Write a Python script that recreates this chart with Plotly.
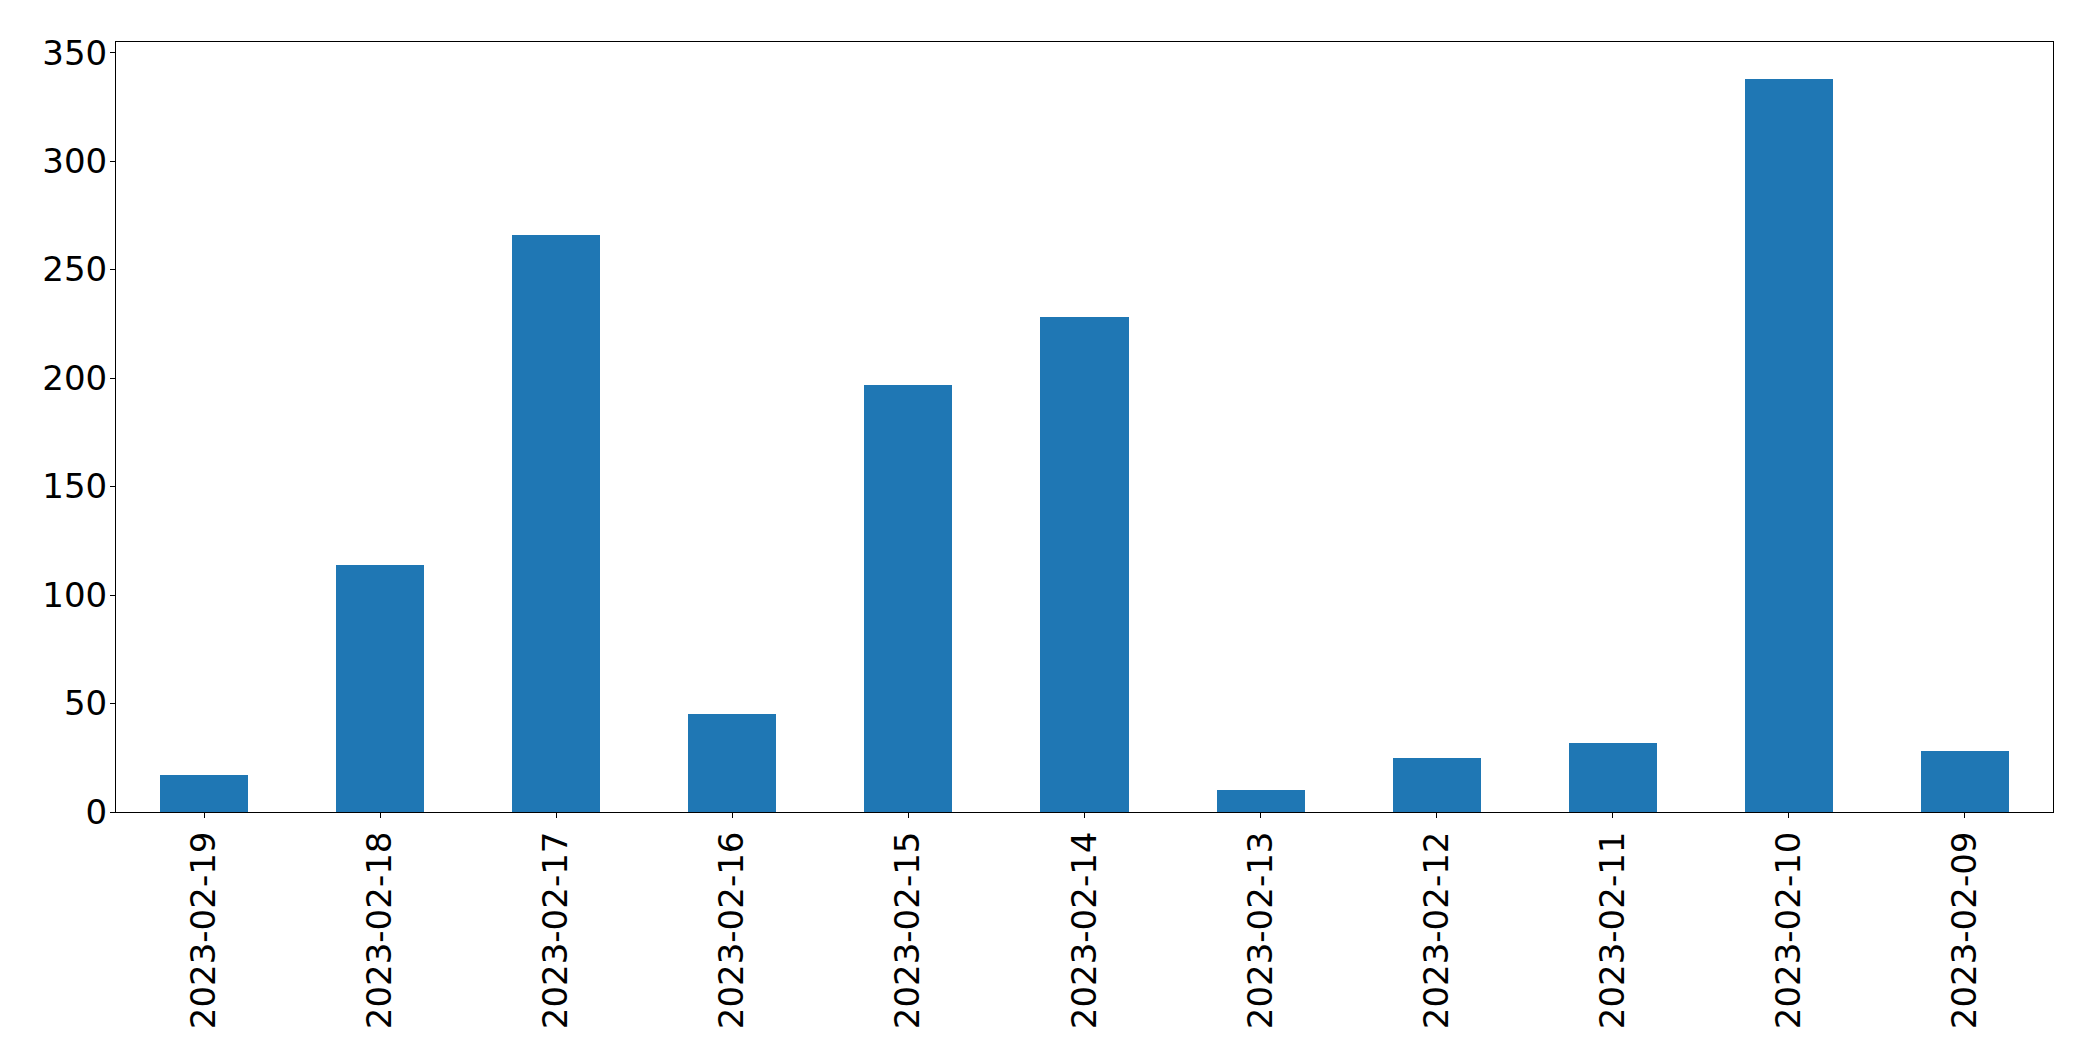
import plotly.graph_objects as go

dates = ["2023-02-19", "2023-02-18", "2023-02-17", "2023-02-16", "2023-02-15",
         "2023-02-14", "2023-02-13", "2023-02-12", "2023-02-11", "2023-02-10", "2023-02-09"]
counts = [17, 114, 266, 45, 197, 228, 10, 25, 32, 338, 28]
y_ticks = [0, 50, 100, 150, 200, 250, 300, 350]

fig = go.Figure(go.Bar(x=dates, y=counts, width=0.5, marker=dict(color="#1f77b4", line=dict(width=0))))

font = dict(family="DejaVu Sans", size=34, color="black")
fig.update_layout(
    width=2093, height=1064,
    margin=dict(l=108, r=48, t=34, b=260, pad=0),
    paper_bgcolor="white", plot_bgcolor="white",
    showlegend=False,
    font=font,
    bargap=0,
)
fig.update_xaxes(
    type="category", range=[-0.5, len(dates) - 0.5],
    tickangle=-90, ticks="outside", ticklen=5, tickwidth=1, tickcolor="black",
    showline=True, linecolor="black", linewidth=1, mirror=True,
    showgrid=False, zeroline=False, tickfont=font, ticklabelstandoff=0,
)
fig.update_yaxes(
    range=[0, max(counts) * 1.05], tickvals=y_ticks, ticktext=[str(v) for v in y_ticks],
    ticks="outside", ticklen=5, tickwidth=1, tickcolor="black",
    showline=True, linecolor="black", linewidth=1, mirror=True,
    showgrid=False, zeroline=False, tickfont=font, ticklabelstandoff=-4,
)
fig.write_html("out.html")
